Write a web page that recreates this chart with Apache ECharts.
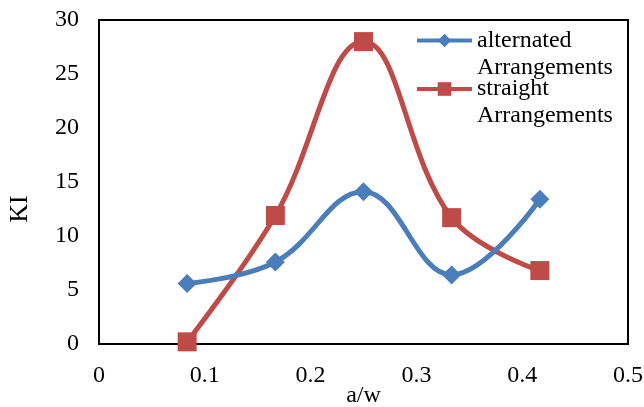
<!DOCTYPE html>
<html><head><meta charset="utf-8">
<script src="https://cdn.jsdelivr.net/npm/echarts@6/dist/echarts.min.js"></script>
<style>html,body{margin:0;padding:0;background:#fff}#c{width:644px;height:407px}</style>
</head><body><div id="c"></div>
<script>
const xValues = [0.0833, 0.1667, 0.25, 0.3333, 0.4167];
const alternated = [5.6, 7.6, 14.1, 6.4, 13.4];
const straight = [0.2, 11.9, 28.0, 11.7, 6.8];
const seriesNames = ['alternated Arrangements', 'straight Arrangements'];
const xTicks = {min: 0, max: 0.5, interval: 0.1};
const yTicks = {min: 0, max: 30, interval: 5};

const font = 'Liberation Serif';
const chart = echarts.init(document.getElementById('c'));
function pairs(ys){ return xValues.map((x,i)=>[x, ys[i]]); }
function legend(name, top){
  return {
    data: [name], left: 415, top: top, padding: 0, orient: 'vertical',
    itemWidth: 55, itemHeight: 17,
    lineStyle: {width: 4},
    formatter: n => ' \n' + n.replace(' ', '\n'),
    textStyle: {fontFamily: font, fontSize: 24, color: '#000', lineHeight: 27},
    selectedMode: false
  };
}
chart.setOption({
  animation: false,
  backgroundColor: '#fff',
  grid: {left: 99, right: 16, top: 20, bottom: 63, show: true, borderColor: '#000', borderWidth: 2,
         containLabel: false, outerBoundsMode: 'none'},
  legend: [legend(seriesNames[0], 0), legend(seriesNames[1], 48.5)],
  xAxis: {
    type: 'value', min: xTicks.min, max: xTicks.max, interval: xTicks.interval,
    name: 'a/w', nameLocation: 'middle', nameGap: 40, nameMoveOverlap: false,
    nameTextStyle: {fontFamily: font, fontSize: 24, color: '#000'},
    axisLine: {show: true, lineStyle: {color: '#000', width: 2}},
    axisTick: {show: false}, splitLine: {show: false},
    axisLabel: {fontFamily: font, fontSize: 24, color: '#000', margin: 20}
  },
  yAxis: {
    type: 'value', min: yTicks.min, max: yTicks.max, interval: yTicks.interval,
    name: '{k|KI}', nameLocation: 'middle', nameGap: 66, nameRotate: 90, nameMoveOverlap: false,
    nameTextStyle: {fontFamily: font, fontSize: 26, color: '#000',
      rich: {k: {fontFamily: font, fontSize: 26, color: '#000', padding: [0, 54, 0, 0]}}},
    axisLine: {show: true, lineStyle: {color: '#000', width: 2}},
    axisTick: {show: false}, splitLine: {show: false},
    axisLabel: {fontFamily: font, fontSize: 24, color: '#000', margin: 20}
  },
  series: [
    {name: seriesNames[0], type: 'line', data: pairs(alternated), smooth: 0.4,
     symbol: 'diamond', symbolSize: 19, color: '#4A7EBB',
     lineStyle: {width: 5, color: '#4A7EBB'}, itemStyle: {color: '#4A7EBB'}, z: 3},
    {name: seriesNames[1], type: 'line', data: pairs(straight), smooth: 0.4,
     symbol: 'rect', symbolSize: 19, color: '#BE4B48',
     lineStyle: {width: 5, color: '#BE4B48'}, itemStyle: {color: '#BE4B48'}, z: 2}
  ]
});
</script></body></html>
